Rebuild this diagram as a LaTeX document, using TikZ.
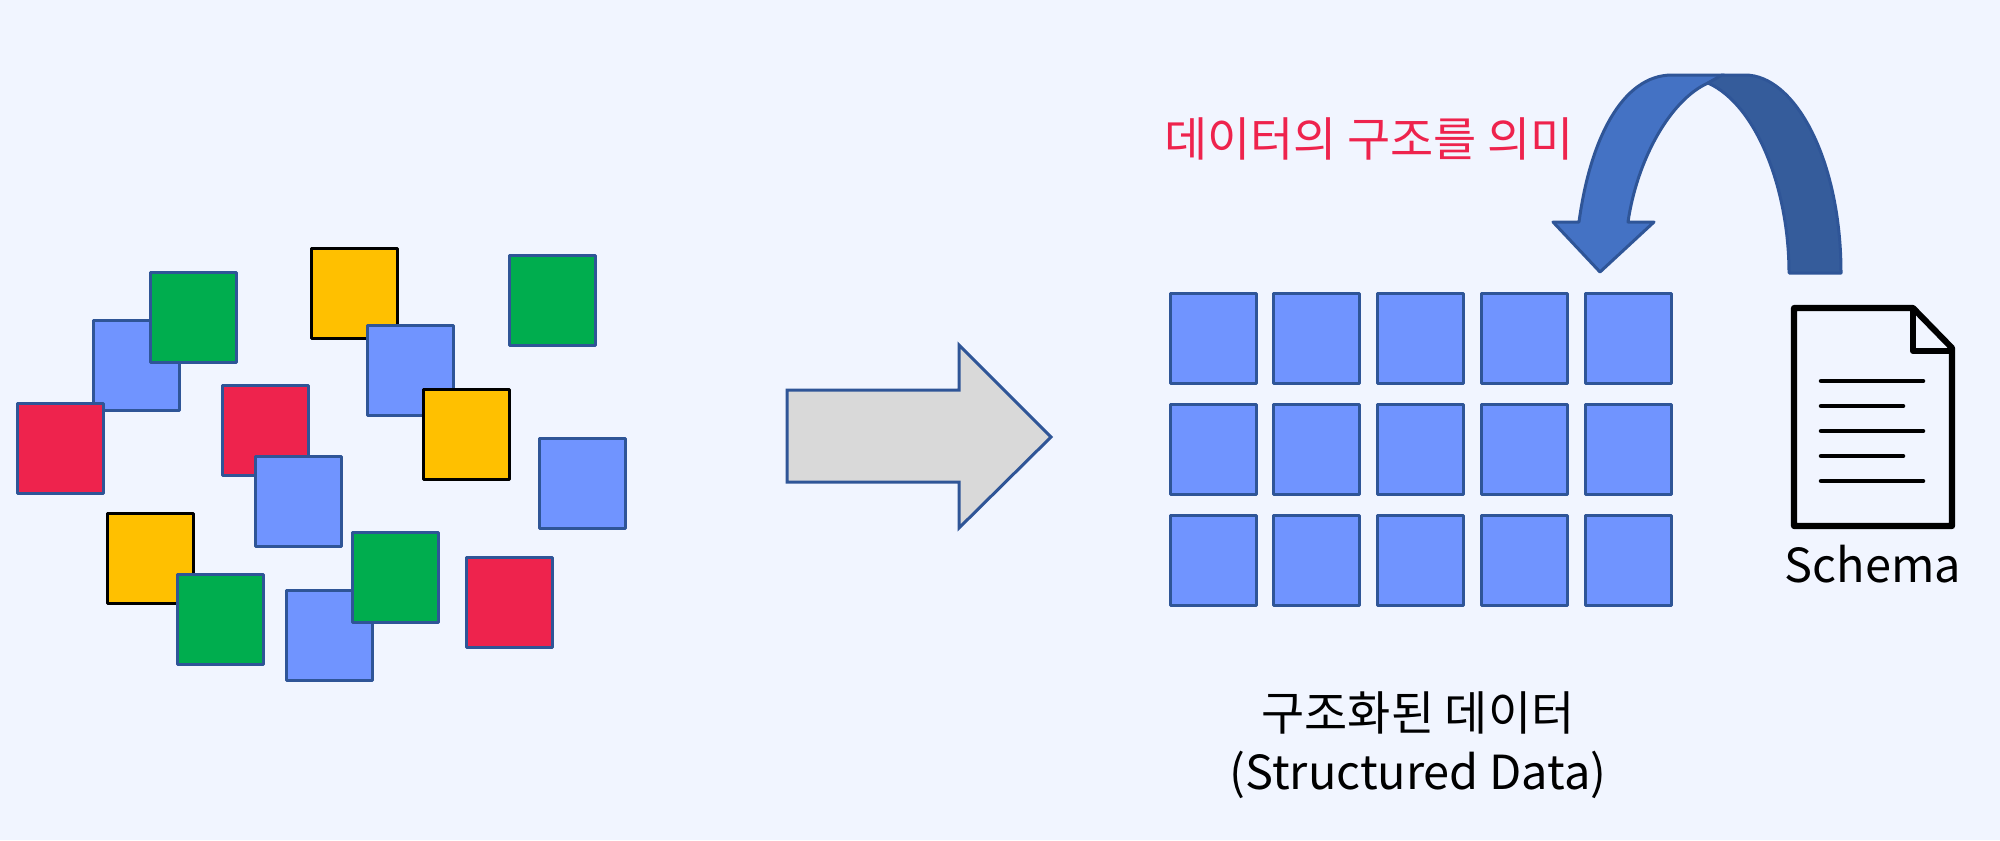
\documentclass[tikz,border=0pt]{standalone}
\usepackage{xcolor}
\usepackage{fontspec}
\setmainfont{Noto Sans CJK KR}
\definecolor{pagebg}{RGB}{241,245,255}
\definecolor{edgeblue}{RGB}{47,85,151}
\definecolor{cellblue}{RGB}{112,148,255}
\definecolor{cellgreen}{RGB}{0,173,78}
\definecolor{cellred}{RGB}{238,35,77}
\definecolor{cellyellow}{RGB}{255,192,0}
\definecolor{bendlight}{RGB}{68,114,196}
\definecolor{benddark}{RGB}{53,92,155}
\tikzset{
  cell/.style={draw=edgeblue,line width=2.25pt,line join=round,anchor=north west,inner sep=0pt,outer sep=0pt,minimum width=64.6pt,minimum height=68pt},
  bluecell/.style={cell,fill=cellblue},
  greencell/.style={cell,fill=cellgreen},
  redcell/.style={cell,fill=cellred},
  yellowcell/.style={cell,fill=cellyellow,draw=black},
  caption/.style={font=\fontsize{35.2pt}{44.4pt}\selectfont,inner sep=0.75pt,align=center},
  docline/.style={line width=3.4pt,line cap=round},
}
\begin{document}
\begin{tikzpicture}[x=0.75pt,y=0.75pt,yscale=-1,xscale=1]

\useasboundingbox (0,0) rectangle (2000,840);
\fill [pagebg] (0,0) rectangle (2000,840);

% scattered data
\node (blueA) [bluecell] at (93,320) {};
\node (greenA) [greencell] at (150,272) {};
\node (redA) [redcell] at (17,403) {};
\node (yellowA) [yellowcell] at (311,248) {};
\node (blueB) [bluecell] at (367,325) {};
\node (yellowB) [yellowcell] at (423,389) {};
\node (greenB) [greencell] at (509,255) {};
\node (redB) [redcell] at (222,385) {};
\node (blueC) [bluecell] at (255,456) {};
\node (blueD) [bluecell] at (539,438) {};
\node (yellowC) [yellowcell] at (107,513) {};
\node (greenC) [greencell] at (177,574) {};
\node (blueE) [bluecell] at (286,590) {};
\node (greenD) [greencell] at (352,532) {};
\node (redC) [redcell] at (466,557) {};

% big arrow
\draw [draw=edgeblue,line width=2.25pt,line join=miter,fill={rgb, 255:red, 217; green, 217; blue, 217 }] (787,390) -- (959,390) -- (959,345) -- (1051,437) -- (959,528) -- (959,482) -- (787,482) -- cycle ;

% structured data
\node (gridAA) [bluecell] at (1170,293) {};
\node (gridAB) [bluecell] at (1273,293) {};
\node (gridAC) [bluecell] at (1377,293) {};
\node (gridAD) [bluecell] at (1481,293) {};
\node (gridAE) [bluecell] at (1585,293) {};
\node (gridBA) [bluecell] at (1170,404) {};
\node (gridBB) [bluecell] at (1273,404) {};
\node (gridBC) [bluecell] at (1377,404) {};
\node (gridBD) [bluecell] at (1481,404) {};
\node (gridBE) [bluecell] at (1585,404) {};
\node (gridCA) [bluecell] at (1170,515) {};
\node (gridCB) [bluecell] at (1273,515) {};
\node (gridCC) [bluecell] at (1377,515) {};
\node (gridCD) [bluecell] at (1481,515) {};
\node (gridCE) [bluecell] at (1585,515) {};

% bent arrow
\draw [draw=edgeblue,line width=2.25pt,line join=round,fill=bendlight] (1708,83) .. controls (1670,100) and (1637,160) .. (1628,222) -- (1654,222) -- (1600,272) -- (1553,222) -- (1579,222) .. controls (1590,140) and (1622,75) .. (1672,75) -- (1724,75) -- cycle ;
\draw [draw=edgeblue,line width=2.25pt,line join=round,fill=benddark] (1708,83) .. controls (1757,105) and (1789,190) .. (1789,273) -- (1841,273) .. controls (1841,160) and (1795,75) .. (1745,75) -- (1722,75) -- cycle ;

% schema document
\draw [line width=4.6pt,line join=round,fill=pagebg] (1794,308) -- (1913,308) -- (1952,348) -- (1952,526) -- (1794,526) -- cycle ;
\draw [line width=4.6pt,line join=round] (1913,308) -- (1913,351) -- (1952,351) ;
\draw [docline] (1821,381) -- (1923,381) ;
\draw [docline] (1821,406) -- (1903,406) ;
\draw [docline] (1821,431) -- (1923,431) ;
\draw [docline] (1821,456) -- (1903,456) ;
\draw [docline] (1821,481) -- (1923,481) ;

\node (meaningLabel) [caption,text=cellred] at (1369,139) {데이터의 구조를 의미};
\node (schemaLabel) [caption] at (1873,564) {Schema};
\node (structuredLabel) [caption] at (1418,745) {구조화된 데이터\\(Structured Data)};

\end{tikzpicture}
\end{document}
